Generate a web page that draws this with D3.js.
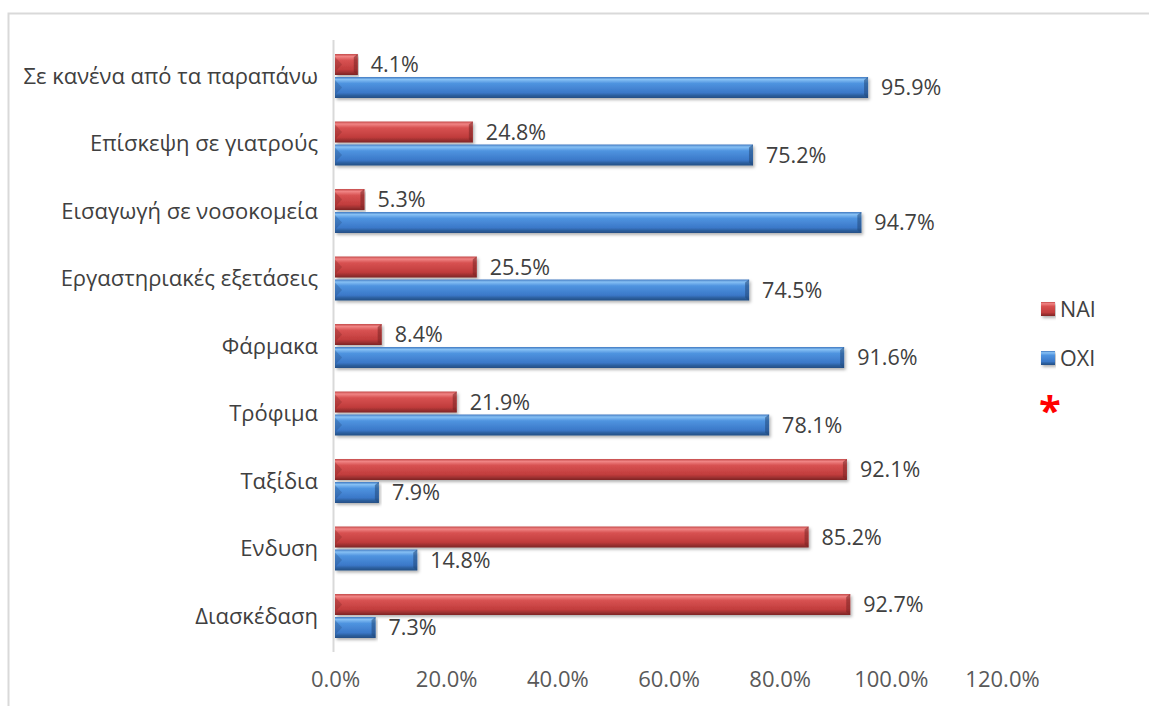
<!DOCTYPE html>
<html>
<head>
<meta charset="utf-8">
<script src="https://cdn.jsdelivr.net/npm/d3@7/dist/d3.min.js"></script>
<style>
  html, body { margin: 0; padding: 0; background: #fff; }
  svg { display: block; font-family: "Open Sans", "Noto Sans", sans-serif; }
</style>
</head>
<body>
<svg id="chart" width="1149" height="706"></svg>
<script>
// Categories, top to bottom
const categories = [
  "Σε κανένα από τα παραπάνω",
  "Επίσκεψη σε γιατρούς",
  "Εισαγωγή σε νοσοκομεία",
  "Εργαστηριακές εξετάσεις",
  "Φάρμακα",
  "Τρόφιμα",
  "Ταξίδια",
  "Ενδυση",
  "Διασκέδαση"
];
// Share of answers (%)
const naiValues = [4.1, 24.8, 5.3, 25.5, 8.4, 21.9, 92.1, 85.2, 92.7];
const oxiValues = [95.9, 75.2, 94.7, 74.5, 91.6, 78.1, 7.9, 14.8, 7.3];
const seriesNames = ["NAI", "OXI"];
const xTicks = [0, 20, 40, 60, 80, 100, 120];

const svg = d3.select("#chart");
const W = 1149, H = 706;

// Outer chart frame
svg.append("rect")
  .attr("x", 8.5).attr("y", 13.5)
  .attr("width", W + 10).attr("height", H + 10)
  .attr("fill", "none").attr("stroke", "#d9d9d9").attr("stroke-width", 2);

const x = d3.scaleLinear().domain([0, 120]).range([335, 1002]);
const y = d3.scalePoint().domain(categories).range([42.25, 649.75]).padding(0.5);

const barH = 21, gap = 2;

// Gradients for the bevelled bars
const defs = svg.append("defs");
function makeGrad(id, stops) {
  const g = defs.append("linearGradient").attr("id", id)
    .attr("x1", 0).attr("y1", 0).attr("x2", 0).attr("y2", 1);
  stops.forEach(s => g.append("stop").attr("offset", s[0]).attr("stop-color", s[1]));
}
makeGrad("gRed", [[0, "#c44a4a"], [0.12, "#f08484"], [0.3, "#d85252"], [0.75, "#c03c3c"], [0.88, "#9c3030"], [1, "#7e2626"]]);
makeGrad("gBlue", [[0, "#3f78c0"], [0.12, "#86c0f4"], [0.3, "#4f94e0"], [0.75, "#3b78c8"], [0.88, "#2c5f9e"], [1, "#244e84"]]);

const shadow = defs.append("filter").attr("id", "shadow")
  .attr("x", "-5%").attr("y", "-30%").attr("width", "110%").attr("height", "170%");
shadow.append("feDropShadow").attr("dx", 1.5).attr("dy", 2).attr("stdDeviation", 1.5)
  .attr("flood-color", "#000").attr("flood-opacity", 0.3);

// Axis line
svg.append("line")
  .attr("x1", 333.5).attr("x2", 333.5).attr("y1", 40).attr("y2", 652)
  .attr("stroke", "#d9d9d9").attr("stroke-width", 2);

const series = [
  { name: "NAI", values: naiValues, grad: "gRed", edge: "#7a2424", off: -(barH + gap / 2) },
  { name: "OXI", values: oxiValues, grad: "gBlue", edge: "#23497a", off: gap / 2 }
];

const labelColor = "#404040";
const fs = 21.5;

series.forEach(s => {
  const g = svg.append("g");
  const bars = g.selectAll("g.bar").data(categories).join("g").attr("class", "bar")
    .attr("filter", "url(#shadow)");
  bars.append("rect")
    .attr("x", x(0))
    .attr("y", c => y(c) + s.off)
    .attr("width", (c, i) => x(s.values[i]) - x(0))
    .attr("height", barH)
    .attr("fill", `url(#${s.grad})`);
  // bevel at the right end
  bars.append("path")
    .attr("d", (c, i) => {
      const xe = x(s.values[i]), yt = y(c) + s.off, b = Math.min(4, (xe - x(0)) / 3);
      return `M${xe},${yt} L${xe},${yt + barH} L${xe - b},${yt + barH - 3} L${xe - b},${yt + 3} Z`;
    })
    .attr("fill", s.edge).attr("opacity", 0.55);
  // bevel at the left end
  bars.append("path")
    .attr("d", c => {
      const xs = x(0), yt = y(c) + s.off;
      return `M${xs},${yt + 3} L${xs + 7},${yt + barH / 2} L${xs},${yt + barH - 3} Z`;
    })
    .attr("fill", s.edge).attr("opacity", 0.3);

  g.selectAll("text.val").data(categories).join("text").attr("class", "val")
    .attr("x", (c, i) => x(s.values[i]) + 13)
    .attr("y", c => y(c) + s.off + barH / 2)
    .attr("dy", "0.36em")
    .attr("font-size", fs)
    .attr("fill", labelColor)
    .text((c, i) => s.values[i].toFixed(1) + "%");
});

// Category labels
svg.append("g").selectAll("text").data(categories).join("text")
  .attr("x", 318)
  .attr("y", c => y(c))
  .attr("dy", "0.36em")
  .attr("text-anchor", "end")
  .attr("font-size", 22)
  .attr("fill", labelColor)
  .text(c => c);

// X axis tick labels
const xAxis = d3.axisBottom(x).tickValues(xTicks).tickSize(0).tickPadding(0)
  .tickFormat(d => d.toFixed(1) + "%");
const ax = svg.append("g").attr("transform", "translate(0,671)").call(xAxis);
ax.select(".domain").remove();
ax.selectAll("text")
  .attr("font-family", "'Open Sans', 'Noto Sans', sans-serif")
  .attr("font-size", 22)
  .attr("fill", "#595959");

// Legend
const legend = svg.append("g");
const legendItems = [
  { name: seriesNames[0], grad: "gRed", y: 309 },
  { name: seriesNames[1], grad: "gBlue", y: 358 }
];
legendItems.forEach(it => {
  legend.append("rect")
    .attr("x", 1041).attr("y", it.y - 7).attr("width", 14).attr("height", 14)
    .attr("fill", `url(#${it.grad})`).attr("filter", "url(#shadow)");
  legend.append("text")
    .attr("x", 1060).attr("y", it.y).attr("dy", "0.36em")
    .attr("font-size", fs).attr("fill", labelColor)
    .text(it.name);
});
legend.append("text")
  .attr("x", 1050).attr("y", 403).attr("dy", "0.55em")
  .attr("text-anchor", "middle")
  .attr("font-size", 40).attr("font-weight", "bold").attr("fill", "#ff0000")
  .text("*");
</script>
</body>
</html>
